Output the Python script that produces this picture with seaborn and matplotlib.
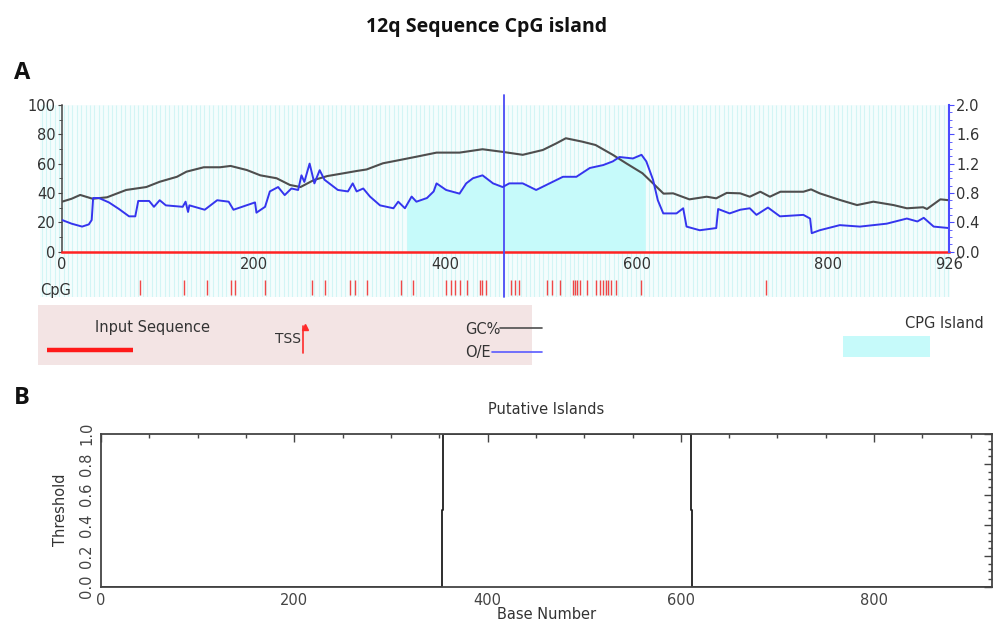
import numpy as np
import pandas as pd
import matplotlib
matplotlib.use("Agg")
import matplotlib.pyplot as plt
import matplotlib.transforms as mtrans
from matplotlib.lines import Line2D
from matplotlib.patches import Rectangle
from matplotlib.ticker import MultipleLocator, FixedLocator
import seaborn as sns

# ---------------- data ----------------
seq_length = 926

# GC content (%) along the sequence
gc_pos = [0, 10, 19, 32, 47, 67, 88, 102, 120, 130, 148, 165, 176, 193, 207, 224,
          238, 249, 263, 277, 294, 308, 318, 335, 353, 370, 391, 415, 439, 460, 481,
          502, 516, 526, 543, 557, 575, 589, 606, 617, 628, 638, 655, 673, 683, 694,
          708, 718, 729, 739, 750, 774, 782, 791, 812, 830, 847, 868, 882, 899, 903,
          917, 926]
gc_percent = [34, 36, 38.6, 36, 37, 42, 44, 47.6, 51, 54.5, 57.5, 57.5, 58.4, 55.6, 52, 50,
              45.4, 44, 48.8, 51.5, 53.4, 55, 56, 60.2, 62.5, 64.7, 67.5, 67.5, 69.8, 68, 66,
              69.3, 73.8, 77.3, 75, 72.7, 66, 60.2, 53.4, 46.5, 39.5, 39.7, 35.6, 37.4, 36.3, 40,
              39.7, 37.4, 40.8, 37.4, 40.8, 40.8, 42.4, 39.7, 35.2, 31.7, 34, 31.7, 29.5, 30.2, 29,
              35.6, 35]

# Observed / expected CpG ratio along the sequence
oe_pos = [0, 10, 21, 28, 31, 32.5, 38.6, 49, 59.5, 70, 76.5, 79.6, 91, 96, 102, 108.4,
          126, 129, 131.6, 133, 149, 162, 174, 179, 201.5, 203, 212, 217, 225.6, 232.5,
          239.5, 246.5, 250, 253, 258.5, 263.5, 269, 274, 288, 298.5, 303.5, 307.6, 314.5,
          321.5, 332, 346, 351, 358, 365, 370, 381, 388, 391, 401, 415, 422, 429, 439, 450,
          460, 467, 481, 495, 509, 523, 537, 551, 565, 575, 582, 596, 605, 610, 617, 622,
          627.7, 641.5, 648.5, 652, 665.8, 683, 685, 697, 708, 718, 725, 737, 749.5, 774,
          781, 782.7, 791, 812, 833, 847, 861, 882, 893, 899.6, 910, 926]
oe_ratio = [0.43, 0.38, 0.34, 0.37, 0.43, 0.73, 0.73, 0.67, 0.58, 0.48, 0.48, 0.69, 0.69, 0.61, 0.70, 0.63,
            0.61, 0.68, 0.54, 0.63, 0.57, 0.70, 0.68, 0.57, 0.67, 0.53, 0.61, 0.82, 0.88, 0.77,
            0.86, 0.84, 1.04, 0.95, 1.20, 0.93, 1.11, 0.98, 0.84, 0.82, 0.93, 0.82, 0.86,
            0.75, 0.63, 0.59, 0.68, 0.59, 0.75, 0.68, 0.73, 0.82, 0.93, 0.84, 0.79, 0.93, 1.00, 1.04, 0.93,
            0.88, 0.93, 0.93, 0.84, 0.93, 1.02, 1.02, 1.14, 1.18, 1.23, 1.29, 1.27, 1.32, 1.23, 0.98, 0.70,
            0.52, 0.52, 0.59, 0.34, 0.29, 0.32, 0.58, 0.52, 0.57, 0.59, 0.50, 0.60, 0.48, 0.50,
            0.45, 0.25, 0.29, 0.36, 0.34, 0.36, 0.38, 0.45, 0.41, 0.46, 0.34, 0.32]

# individual CpG dinucleotide positions
cpg_sites = [81, 127, 151, 176, 181, 212, 261, 275, 301, 306, 318, 354, 366, 401, 406,
             410, 415, 423, 436, 438, 443, 469, 473, 477, 506, 512, 520, 533, 536, 538,
             541, 548, 557, 562, 565, 568, 570, 573, 578, 604, 735]
tss_pos = 461
island_span = (360, 609)

# putative island threshold track
thr_pos = [0, 352.5, 352.5, 353.5, 353.5, 610.5, 610.5, 612, 612, 922]
thr_val = [0, 0, 0.5, 0.5, 1, 1, 0.5, 0.5, 0, 0]

x_ticks_a = [0, 200, 400, 600, 800, 926]
gc_ticks = [0, 20, 40, 60, 80, 100]
oe_ticks = [0.0, 0.4, 0.8, 1.2, 1.6, 2.0]
x_ticks_b = [0, 200, 400, 600, 800]
thr_ticks = [0.0, 0.2, 0.4, 0.6, 0.8, 1.0]

# ---------------- figure ----------------
W, H = 993, 628
sns.set_style("white")
plt.rcParams["font.family"] = ["DejaVu Sans"]

fig = plt.figure(figsize=(W / 100, H / 100), dpi=100)


def box(l, t, r, b):
    return [l / W, 1 - b / H, (r - l) / W, (b - t) / H]


def fx(x):
    return x / W


def fy(y):
    return 1 - y / H


TXT = "#333333"
GC_COL = "#4e4e4e"
OE_COL = "#3535ee"

# striped backdrop of the profile panel
bg = fig.add_axes(box(40, 105, 950, 297))
bg.set_xlim(0, 910)
bg.set_ylim(0, 1)
bg.set_facecolor("#f4fdfd")
bg.vlines(np.arange(1.5, 910, 4.4), 0, 1, color="#d3f5f5", lw=0.8)
bg.set_xticks([])
bg.set_yticks([])
for s in bg.spines.values():
    s.set_visible(False)

# ---- panel A: GC% and O/E profile ----
ax = fig.add_axes(box(62, 105, 949, 251.5))
ax.patch.set_visible(False)
ax.set_xlim(0, seq_length)
ax.set_ylim(0, 100)

oe_to_gc = 100 / 2.0
oe_arr = np.asarray(oe_pos, float)
inside = (oe_arr > island_span[0]) & (oe_arr < island_span[1])
fill_x = np.concatenate([[island_span[0]], oe_arr[inside], [island_span[1]]])
fill_y = np.interp(fill_x, oe_pos, oe_ratio) * oe_to_gc
ax.fill_between(fill_x, 0, fill_y, color="#c6fafa", lw=0, zorder=1)

gc_df = pd.DataFrame({"base": gc_pos, "gc": gc_percent})
sns.lineplot(data=gc_df, x="base", y="gc", ax=ax, color=GC_COL, lw=1.5,
             estimator=None, sort=False, zorder=3)
ax.set_xlabel("")
ax.set_ylabel("")

for side in ("top", "right"):
    ax.spines[side].set_visible(False)
ax.spines["left"].set_color("#444444")
ax.spines["left"].set_linewidth(1.1)
ax.spines["bottom"].set_color("#ff2222")
ax.spines["bottom"].set_linewidth(1.8)

ax.xaxis.set_major_locator(FixedLocator(x_ticks_a))
ax.xaxis.set_minor_locator(MultipleLocator(20))
ax.tick_params(axis="x", which="both", direction="in", color="#ff3333",
               labelcolor=TXT, labelsize=10.5, pad=4)
ax.tick_params(axis="x", which="major", length=6, width=0.9)
ax.tick_params(axis="x", which="minor", length=3.6, width=0.9)
ax.set_yticks(gc_ticks)
ax.yaxis.set_minor_locator(MultipleLocator(10))
ax.tick_params(axis="y", which="both", direction="out", color="#444444",
               labelcolor=TXT, labelsize=10.5, pad=1.5)
ax.tick_params(axis="y", which="major", length=3)
ax.tick_params(axis="y", which="minor", length=2)

ax2 = ax.twinx()
ax2.set_ylim(0, 2.0)
oe_df = pd.DataFrame({"base": oe_pos, "oe": oe_ratio})
sns.lineplot(data=oe_df, x="base", y="oe", ax=ax2, color=OE_COL, lw=1.4,
             estimator=None, sort=False)
ax2.set_xlim(0, seq_length)
ax2.set_xlabel("")
ax2.set_ylabel("")
for side in ("top", "left", "bottom"):
    ax2.spines[side].set_visible(False)
ax2.spines["right"].set_color("#4b4bff")
ax2.spines["right"].set_linewidth(1.5)
ax2.set_yticks(oe_ticks)
ax2.set_yticklabels([f"{v:.1f}" for v in oe_ticks])
ax2.yaxis.set_minor_locator(MultipleLocator(0.1))
ax2.tick_params(axis="y", which="both", direction="out", color="#4b4bff",
                labelcolor=TXT, labelsize=10.5, pad=1.5)
ax2.tick_params(axis="y", which="major", length=3.5)
ax2.tick_params(axis="y", which="minor", length=2.5)

blend = mtrans.blended_transform_factory(ax.transData, ax.transAxes)
ax.plot([tss_pos, tss_pos], [-0.31, 1.068], transform=blend, color="#4a4af5",
        lw=1.3, clip_on=False, zorder=5)
ax.vlines(cpg_sites, -0.296, -0.195, transform=blend, color="#f04848",
          lw=1.0, clip_on=False)
fig.text(fx(40), fy(290), "CpG", ha="left", va="center", fontsize=10.5, color=TXT)

# ---- panel A key ----
fig.add_artist(Rectangle((fx(38), fy(365)), (532 - 38) / W, 60 / H,
                         transform=fig.transFigure, facecolor="#f3e4e4",
                         edgecolor="none", zorder=0))
fig.text(fx(95), fy(327), "Input Sequence", ha="left", va="center",
         fontsize=10.5, color=TXT)
fig.add_artist(Line2D([fx(47), fx(133)], [fy(350), fy(350)],
                      transform=fig.transFigure, color="#ff1a1a", lw=3.2,
                      solid_capstyle="butt"))
fig.text(fx(275), fy(339), "TSS", ha="left", va="center", fontsize=10,
         color=TXT)
fig.add_artist(Line2D([fx(303), fx(303)], [fy(326), fy(353)],
                      transform=fig.transFigure, color="#ff2a2a", lw=1.2))
fig.add_artist(Line2D([fx(304.5)], [fy(327)], transform=fig.transFigure,
                      marker="^", markersize=4.5, color="#ff2a2a", lw=0))
fig.text(fx(465), fy(329), "GC%", ha="left", va="center", fontsize=10.5,
         color=TXT)
fig.add_artist(Line2D([fx(500), fx(542)], [fy(328), fy(328)],
                      transform=fig.transFigure, color=GC_COL, lw=1.2))
fig.text(fx(465), fy(353), "O/E", ha="left", va="center", fontsize=10.5,
         color=TXT)
fig.add_artist(Line2D([fx(492), fx(542)], [fy(352), fy(352)],
                      transform=fig.transFigure, color="#5a5aff", lw=1.2))
fig.text(fx(905), fy(323), "CPG Island", ha="left", va="center",
         fontsize=10.5, color=TXT)
fig.add_artist(Rectangle((fx(843), fy(357)), (930 - 843) / W, 21 / H,
                         transform=fig.transFigure, facecolor="#c6fafa",
                         edgecolor="none"))

# ---- panel B: putative islands ----
axb = fig.add_axes(box(101, 433.5, 992, 586.5))
thr_df = pd.DataFrame({"base": thr_pos, "threshold": thr_val})
sns.lineplot(data=thr_df, x="base", y="threshold", ax=axb, color="#1e1e1e",
             lw=1.3, estimator=None, sort=False)
axb.set_xlim(0, 922)
axb.set_ylim(0, 1)
for s in axb.spines.values():
    s.set_color("#444444")
    s.set_linewidth(1.3)
axb.set_xticks(x_ticks_b)
axb.xaxis.set_minor_locator(MultipleLocator(50))
axb.set_yticks(thr_ticks)
axb.set_yticklabels([f"{v:.1f}" for v in thr_ticks], rotation=90, va="center")
axb.yaxis.set_minor_locator(MultipleLocator(0.05))
axb.tick_params(which="both", direction="in", top=True, right=True,
                color="#444444", labelcolor="#444444", labelsize=10.5)
axb.tick_params(which="major", length=5.5, width=1.0, pad=5)
axb.tick_params(which="minor", length=3, width=1.0)
axb.set_title("Putative Islands", fontsize=10.5, color="#333333", pad=14)
axb.set_xlabel("Base Number", fontsize=10.5, color="#333333", labelpad=-1)
axb.set_ylabel("Threshold", fontsize=10.5, color="#333333", labelpad=8)

# ---- headings ----
fig.text(fx(487), fy(27), "12q Sequence CpG island", ha="center", va="center",
         fontsize=14, fontweight="bold", family=["Open Sans", "DejaVu Sans"],
         color="#111111")
fig.text(fx(14), fy(73), "A", ha="left", va="center", fontsize=17,
         fontweight="bold", family=["Open Sans", "DejaVu Sans"], color="#111111")
fig.text(fx(14), fy(398), "B", ha="left", va="center", fontsize=17,
         fontweight="bold", family=["Open Sans", "DejaVu Sans"], color="#111111")

fig.savefig("out.png", dpi=100)
